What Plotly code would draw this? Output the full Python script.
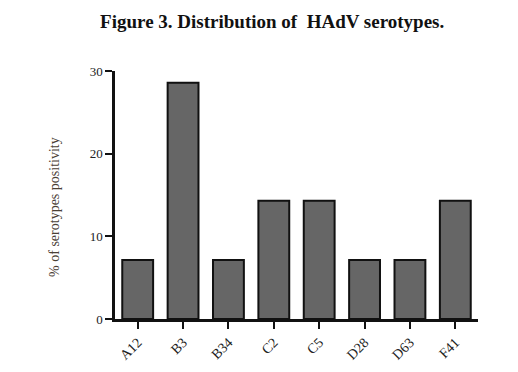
import plotly.graph_objects as go

categories = ["A12", "B3", "B34", "C2", "C5", "D28", "D63", "F41"]
values = [7.14, 28.57, 7.14, 14.29, 14.29, 7.14, 7.14, 14.29]
y_ticks = [0, 10, 20, 30]

fig = go.Figure(go.Bar(
    x=categories, y=values,
    marker=dict(color="#666666", line=dict(color="#111111", width=2)),
    width=0.68,
))

fig.update_layout(
    width=510, height=364,
    margin=dict(l=107, r=40, t=63, b=53),
    paper_bgcolor="white", plot_bgcolor="white",
    showlegend=False,
    title=dict(text="<b>Figure 3. Distribution of  HAdV serotypes.</b>",
               x=0.518, xanchor="center", y=0.962, yanchor="middle",
               font=dict(family="Liberation Serif", size=19, color="#111111")),
    font=dict(family="Liberation Serif", size=13, color="#222222"),
    annotations=[dict(
        text="% of serotypes positivity", textangle=-90,
        xref="paper", yref="paper", x=0, y=0.452, xshift=-60,
        xanchor="center", yanchor="middle", showarrow=False,
        font=dict(family="Liberation Serif", size=14, color="#4a4035"),
    )],
)
fig.update_xaxes(
    range=[-0.5, 7.5], showline=True, linecolor="#111111", linewidth=2.5,
    ticks="outside", ticklen=7, tickwidth=2, tickcolor="#111111",
    tickangle=-45, showgrid=False, zeroline=False, automargin=False,
    tickfont=dict(family="Liberation Serif", size=14, color="#222222"),
)
fig.update_yaxes(
    range=[0, 30], tickvals=y_ticks, showline=True, linecolor="#111111", linewidth=2.5,
    ticks="outside", ticklen=7, tickwidth=2, tickcolor="#111111",
    showgrid=False, zeroline=False, automargin=False,
    tickfont=dict(family="Liberation Serif", size=13, color="#222222"),
)

fig.write_html("out.html")
